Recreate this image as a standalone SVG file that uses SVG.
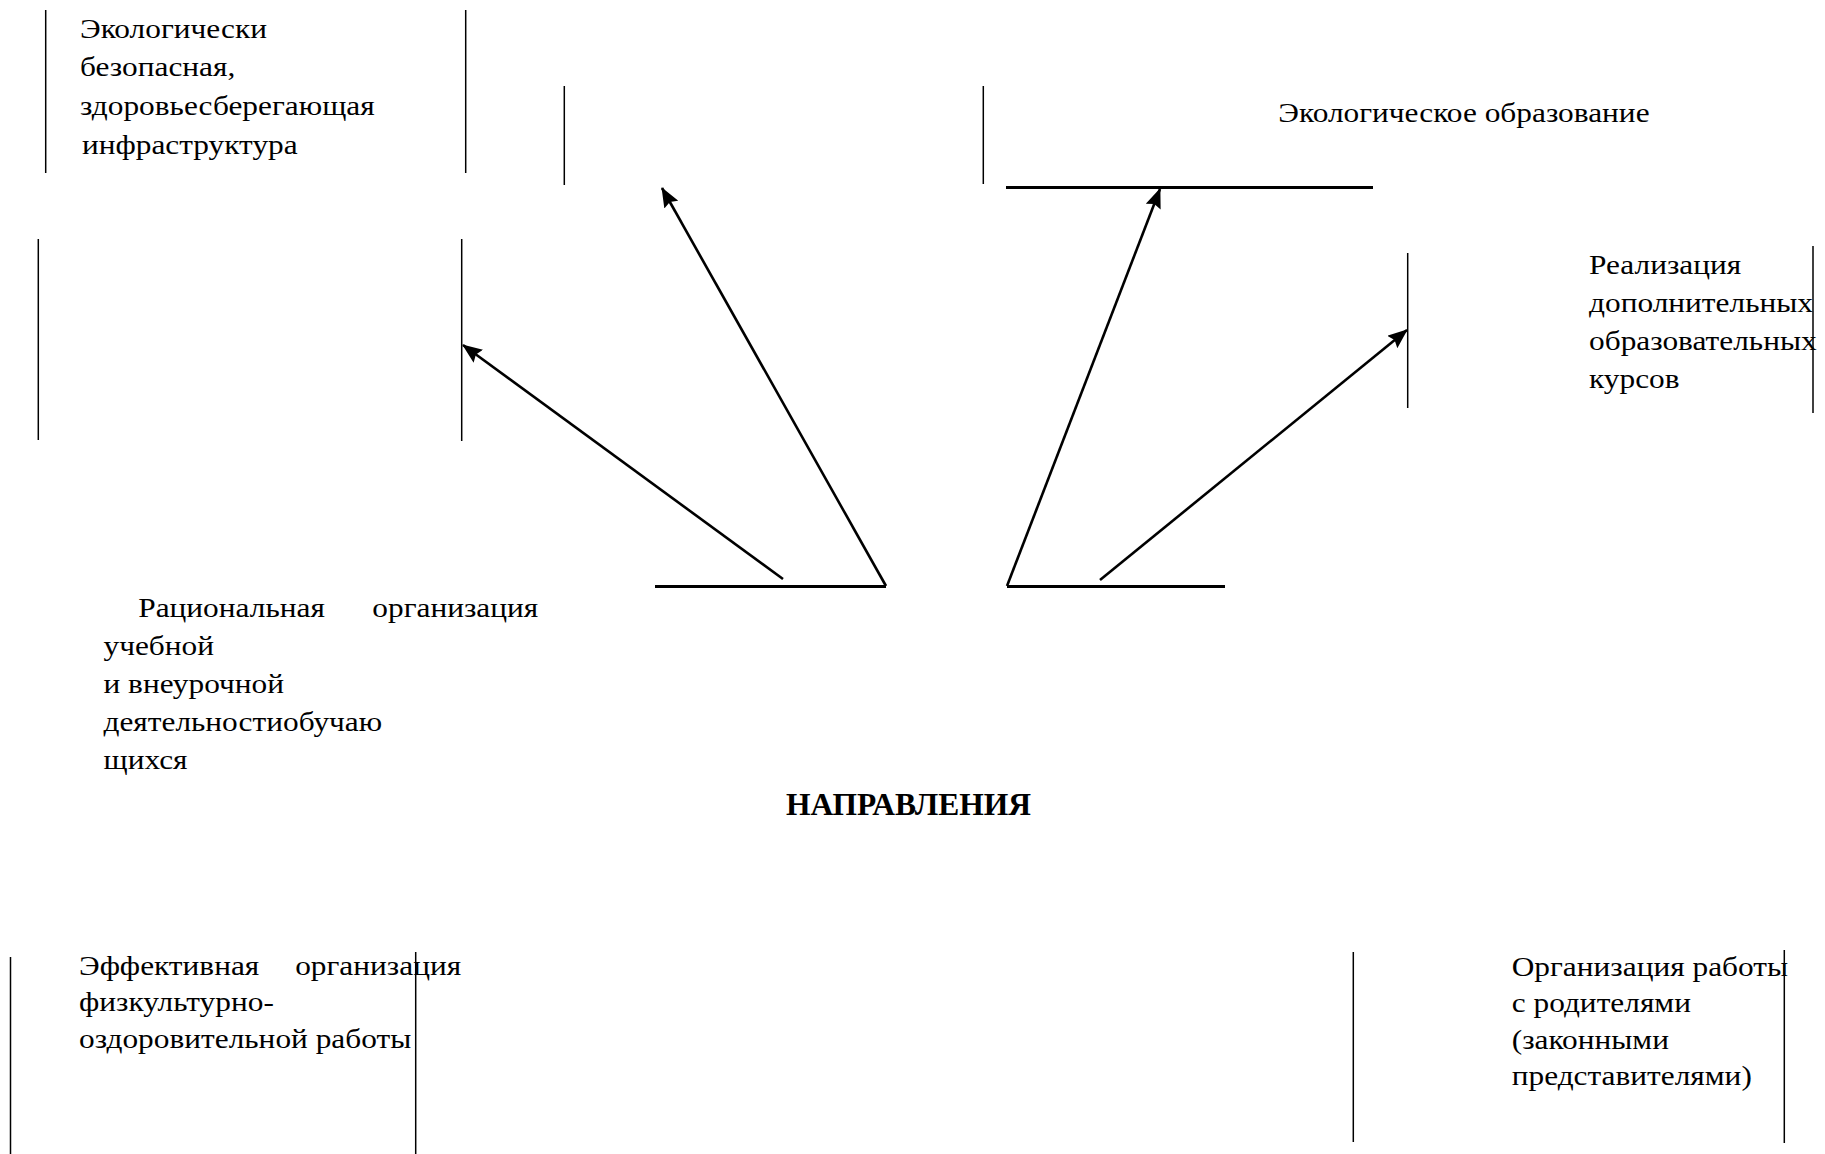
<svg xmlns="http://www.w3.org/2000/svg" width="1825" height="1154" viewBox="0 0 1825 1154">
<style>
.t{font-family:"Liberation Serif","Times New Roman",serif;font-size:28px;fill:#000}
.h{font-family:"Liberation Serif","Times New Roman",serif;font-size:31.5px;font-weight:bold;fill:#000}
.v{stroke:#000;stroke-width:1.5;fill:none}
.hz{stroke:#000;stroke-width:2.8;fill:none}
.c{stroke:#000;stroke-width:2.6;fill:none;marker-end:url(#ah)}
</style>
<defs>
<marker id="ah" markerUnits="userSpaceOnUse" markerWidth="20" markerHeight="16" viewBox="0 0 20 16" refX="19" refY="8" orient="auto">
<path d="M0,0 L20,8 L0,16 L3,8 z" fill="#000"/>
</marker>
</defs>
<rect width="1825" height="1154" fill="#fff"/>

<g id="node-infra">
<line class="v" x1="45.7" y1="10" x2="45.7" y2="173"/>
<line class="v" x1="465.7" y1="10" x2="465.7" y2="173"/>
<text class="t" transform="translate(80,37.5) scale(1.12,1)"><tspan x="0" y="0">Экологически</tspan><tspan x="0" y="38.8">безопасная,</tspan><tspan x="0" y="77.5">здоровьесберегающая</tspan><tspan x="1.7" y="116.5">инфраструктура</tspan></text>
</g>

<g id="node-top-middle">
<line class="v" x1="564.3" y1="86" x2="564.3" y2="185"/>
<line class="v" x1="983.3" y1="86" x2="983.3" y2="184"/>
</g>

<g id="node-eco-edu">
<line class="hz" x1="1006" y1="187.5" x2="1373" y2="187.5"/>
<text class="t" transform="translate(1278.3,122.3) scale(1.12,1)"><tspan x="0" y="0">Экологическое образование</tspan></text>
</g>

<g id="node-courses">
<line class="v" x1="1407.7" y1="253" x2="1407.7" y2="408"/>
<line class="v" x1="1813" y1="246" x2="1813" y2="413"/>
<text class="t" transform="translate(1589,274) scale(1.12,1)"><tspan x="0" y="0">Реализация</tspan><tspan x="0" y="38">дополнительных</tspan><tspan x="0" y="76">образовательных</tspan><tspan x="0" y="114">курсов</tspan></text>
</g>

<g id="node-left-empty">
<line class="v" x1="38.3" y1="239" x2="38.3" y2="440"/>
<line class="v" x1="461.7" y1="239" x2="461.7" y2="441"/>
</g>

<g id="node-center">
<line class="hz" x1="655" y1="586.5" x2="886" y2="586.5"/>
<line class="hz" x1="1007" y1="586.5" x2="1225" y2="586.5"/>
<text class="h" x="786" y="815">НАПРАВЛЕНИЯ</text>
</g>

<g id="node-rational">
<text class="t" transform="translate(103.5,617) scale(1.12,1)"><tspan x="31" y="0">Рациональная</tspan><tspan x="240" y="0">организация</tspan><tspan x="0" y="38">учебной</tspan><tspan x="0" y="76">и внеурочной</tspan><tspan x="0" y="114">деятельностиобучаю</tspan><tspan x="0" y="152">щихся</tspan></text>
</g>

<g id="node-sport">
<line class="v" x1="10.5" y1="957" x2="10.5" y2="1154"/>
<line class="v" x1="415.7" y1="952" x2="415.7" y2="1154"/>
<text class="t" transform="translate(79,975) scale(1.12,1)"><tspan x="0" y="0">Эффективная</tspan><tspan x="193" y="0">организация</tspan><tspan x="0" y="36.5">физкультурно-</tspan><tspan x="0" y="73">оздоровительной работы</tspan></text>
</g>

<g id="node-parents">
<line class="v" x1="1353.3" y1="952" x2="1353.3" y2="1142"/>
<line class="v" x1="1784.3" y1="950" x2="1784.3" y2="1143"/>
<text class="t" transform="translate(1511.7,975.7) scale(1.12,1)"><tspan x="0" y="0">Организация работы</tspan><tspan x="0" y="36.5">с родителями</tspan><tspan x="0" y="73">(законными</tspan><tspan x="0" y="109.5">представителями)</tspan></text>
</g>

<g id="connectors">
<line class="c" x1="783" y1="579" x2="463" y2="345"/>
<line class="c" x1="886" y1="586" x2="662" y2="188"/>
<line class="c" x1="1007" y1="586" x2="1160" y2="189"/>
<line class="c" x1="1100" y1="580" x2="1407" y2="330"/>
</g>
</svg>
